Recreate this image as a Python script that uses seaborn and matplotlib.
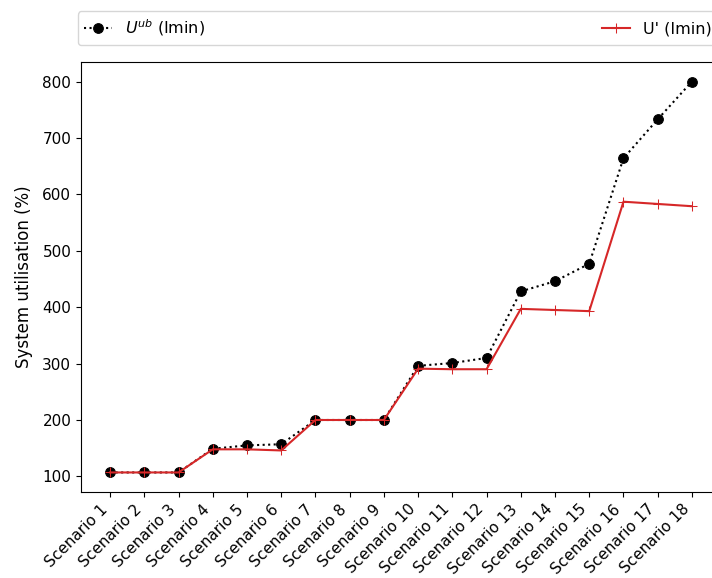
import matplotlib
matplotlib.use("Agg")
import matplotlib.pyplot as plt
import seaborn as sns
import numpy as np

scenarios = [f"Scenario {i}" for i in range(1, 19)]
u_ub = [107, 107, 107, 149, 155, 157, 200, 200, 200, 296, 301, 310, 428, 446, 477, 664, 733, 800]
u_prime = [107, 107, 107, 148, 148, 146, 200, 200, 200, 291, 290, 290, 397, 395, 393, 587, 583, 579]

plt.rcParams["font.family"] = ["DejaVu Sans"]
plt.rcParams["font.size"] = 11

fig = plt.figure(figsize=(7.12, 5.78), dpi=100)
ax = fig.add_axes([81 / 712, 86 / 578, (721 - 81) / 712, (492 - 62) / 578])

x = np.arange(len(scenarios))
sns.lineplot(x=x, y=u_ub, ax=ax, color="black", linestyle=":", marker="o",
             markersize=7, markeredgecolor="black", label=r"$U^{ub}$ (Imin)", sort=False)
sns.lineplot(x=x, y=u_prime, ax=ax, color="tab:red", linestyle="-", marker="+",
             markersize=7, markeredgecolor="tab:red", label="U' (Imin)", sort=False)

ax.set_xticks(x)
ax.set_xticklabels(scenarios, rotation=45, ha="right", rotation_mode="default", fontsize=11)
ax.tick_params(axis="y", labelsize=11)
ax.set_ylabel("System utilisation (%)", fontsize=12, labelpad=7)
ax.set_xlabel("")
ax.margins(x=0.05, y=0.05)
ax.legend(bbox_to_anchor=(-0.005, 1.04, 1.0, 0.075), loc="lower left", ncol=2,
          mode="expand", borderaxespad=0.0, handlelength=1.75, fontsize=11.5)

fig.savefig("out.png", dpi=100)
